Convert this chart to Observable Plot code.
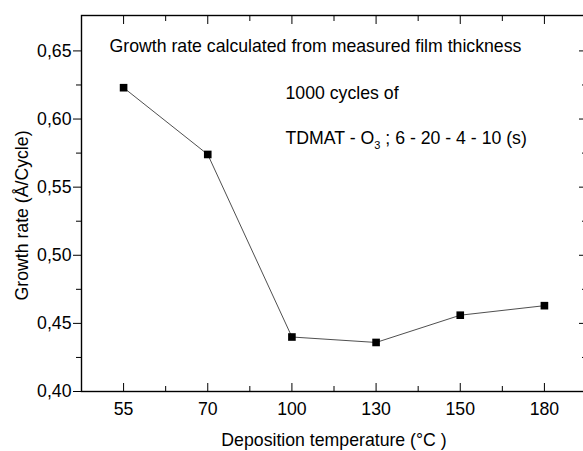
<!DOCTYPE html>
<html>
<head>
<meta charset="utf-8">
<script src="https://cdn.jsdelivr.net/npm/d3@7"></script>
<script src="https://cdn.jsdelivr.net/npm/@observablehq/plot@0.6"></script>
<style>
  html, body { margin: 0; padding: 0; background: #fff; }
</style>
</head>
<body>
<div id="chart"></div>
<script>
const temperatures = ["55", "70", "100", "130", "150", "180"];
const growthRates = [0.623, 0.574, 0.440, 0.436, 0.456, 0.463];
const yMajorTicks = [0.40, 0.45, 0.50, 0.55, 0.60, 0.65];
const yMinorTicks = [0.425, 0.475, 0.525, 0.575, 0.625];
const xMajorTicks = [0, 1, 2, 3, 4, 5];
const xMinorTicks = [0.5, 1.5, 2.5, 3.5, 4.5];
const xTitle = "Deposition temperature (°C )";
const yTitle = "Growth rate (Å/Cycle)";
const annotations = [
  "Growth rate calculated from measured film thickness",
  "1000 cycles of",
  "TDMAT - O3 ; 6 - 20 - 4 - 10 (s)"
];

const data = temperatures.map((t, i) => ({i, t, rate: growthRates[i]}));
const fmtY = d => d.toFixed(2).replace(".", ",");
const blank = () => "";

const chart = Plot.plot({
  width: 583,
  height: 451,
  marginLeft: 81,
  marginRight: -3,
  marginTop: 15,
  marginBottom: 60,
  style: {fontFamily: "'Liberation Sans', Arial, sans-serif", fontSize: "17.7px", color: "#000", background: "#fff"},
  x: {type: "linear", domain: [-0.5, 5.5]},
  y: {domain: [0.40, 0.676]},
  marks: [
    // bottom axis: labels and inward ticks
    Plot.axisX({anchor: "bottom", ticks: xMajorTicks, tickSize: 0, tickPadding: 11, tickFormat: d => temperatures[d], label: null}),
    Plot.axisX({anchor: "bottom", ticks: xMajorTicks, tickSize: -8, tickFormat: blank, label: null}),
    Plot.axisX({anchor: "bottom", ticks: xMinorTicks, tickSize: -5, tickFormat: blank, label: null}),
    // top axis: inward ticks
    Plot.axisX({anchor: "top", ticks: xMajorTicks, tickSize: -8, tickFormat: blank, label: null}),
    Plot.axisX({anchor: "top", ticks: xMinorTicks, tickSize: -5, tickFormat: blank, label: null}),
    // left axis: outward ticks
    Plot.axisY({anchor: "left", ticks: yMajorTicks, tickSize: 8, tickPadding: 2, tickFormat: fmtY, label: null}),
    Plot.axisY({anchor: "left", ticks: yMinorTicks, tickSize: 5, tickFormat: blank, label: null}),
    // right axis: inward ticks
    Plot.axisY({anchor: "right", ticks: yMajorTicks, tickSize: -8, tickFormat: blank, label: null}),
    Plot.axisY({anchor: "right", ticks: yMinorTicks, tickSize: -5, tickFormat: blank, label: null}),
    Plot.frame({stroke: "#000", strokeWidth: 1.4}),
    // axis titles
    Plot.text([xTitle], {text: d => d, frameAnchor: "bottom", textAnchor: "middle", lineAnchor: "top", dx: 0, dy: 42, fill: "#000"}),
    Plot.text([yTitle], {text: d => d, frameAnchor: "left", rotate: -90, textAnchor: "middle", lineAnchor: "middle", dx: -59, dy: 12, fill: "#000"}),
    // data
    Plot.line(data, {x: "i", y: "rate", stroke: "#222", strokeWidth: 0.8}),
    Plot.dot(data, {x: "i", y: "rate", symbol: "square", r: 4.3, fill: "#000", stroke: "none"}),
    // annotations
    Plot.text([annotations[0]], {text: d => d, frameAnchor: "top-left", textAnchor: "start", lineAnchor: "top", dx: 28, dy: 24, fill: "#000"}),
    Plot.text([annotations[1]], {text: d => d, frameAnchor: "top-left", textAnchor: "start", lineAnchor: "top", dx: 204, dy: 71, fill: "#000"}),
    Plot.text([annotations[2]], {text: d => d, frameAnchor: "top-left", textAnchor: "start", lineAnchor: "top", dx: 204, dy: 116, fill: "#000"})
  ]
});

document.getElementById("chart").appendChild(chart);

// Render the "3" of O3 as a subscript
d3.select(chart).selectAll("text").each(function () {
  const el = d3.select(this);
  if (el.text() === annotations[2]) {
    const txt = annotations[2];
    const k = txt.indexOf("O3") + 1;
    el.text("");
    el.append("tspan").text(txt.slice(0, k));
    el.append("tspan").attr("dy", "5").attr("font-size", "11px").text(txt.slice(k, k + 1));
    el.append("tspan").attr("dy", "-5").text(txt.slice(k + 1));
  }
});
</script>
</body>
</html>
